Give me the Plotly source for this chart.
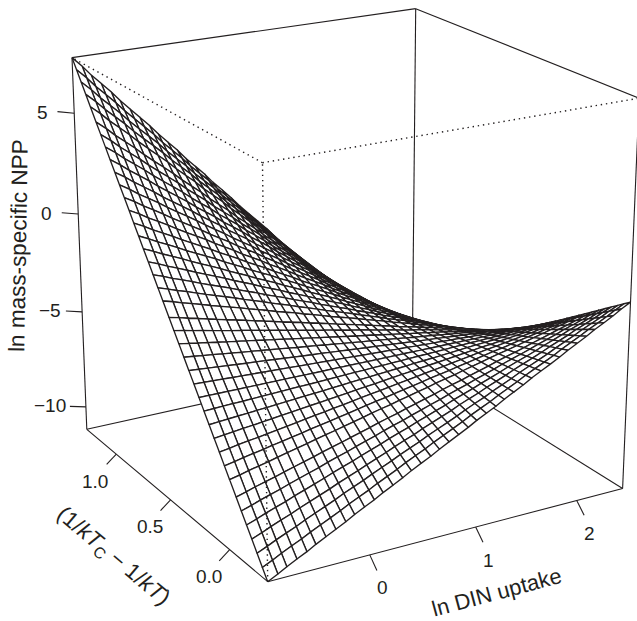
import numpy as np
import plotly.graph_objects as go

# Grid positions of the mesh lines, read along the box edges.
x_grid = [-0.92,-0.83,-0.75,-0.66,-0.57,-0.49,-0.40,-0.31,-0.22,-0.14,-0.05,0.04,0.12,0.21,0.30,0.38,0.47,0.56,0.64,0.73,0.82,0.91,0.99,1.08,1.17,1.25,1.34,1.43,1.51,1.60,1.69,1.78,1.86,1.95,2.04,2.12,2.21,2.30,2.38,2.47]
y_grid = [-0.30,-0.26,-0.22,-0.18,-0.14,-0.10,-0.06,-0.01,0.03,0.07,0.11,0.15,0.19,0.23,0.27,0.31,0.35,0.39,0.43,0.47,0.52,0.56,0.60,0.64,0.68,0.72,0.76,0.80,0.84,0.88,0.92,0.96,1.00,1.04,1.08,1.13,1.17,1.21,1.25,1.29]
# Surface height read along the two mesh edges; every cross line in the picture
# is straight, so each one runs directly between these two edges.
z_at_low_y = [-11.20,-10.96,-10.72,-10.48,-10.25,-10.01,-9.77,-9.53,-9.29,-9.05,-8.81,-8.58,-8.34,-8.10,-7.86,-7.62,-7.38,-7.15,-6.91,-6.67,-6.43,-6.19,-5.95,-5.71,-5.48,-5.24,-5.00,-4.76,-4.52,-4.28,-4.05,-3.81,-3.57,-3.33,-3.09,-2.85,-2.62,-2.38,-2.14,-1.90]
z_at_high_y = [7.70,7.22,6.73,6.25,5.76,5.28,4.79,4.31,3.82,3.34,2.85,2.37,1.88,1.40,0.92,0.43,-0.05,-0.54,-1.02,-1.51,-1.99,-2.48,-2.96,-3.45,-3.93,-4.42,-4.90,-5.38,-5.87,-6.35,-6.84,-7.32,-7.81,-8.29,-8.78,-9.26,-9.75,-10.23,-10.72,-11.20]
x_ticks = [0, 1, 2]
y_ticks = [0.0, 0.5, 1.0]
z_ticks = [-10, -5, 0, 5]
x_tick_labels = ["0", "1", "2"]
y_tick_labels = ["0.0", "0.5", "1.0"]
z_tick_labels = ["\u221210", "\u22125", "0", "5"]
z_limits = [-11.2, 7.7]

W, H = 637, 621
INK = "#231f20"

# Viewing transform, in the manner of R's persp(): theta, phi, distance, focal
# length, principal point, box aspect.
THETA, PHI, DIST, FOCAL, CX, CY, ASPECT_X, ASPECT_Z = 30.065, 20.106, 6.09, 2452.4, 347.4, 273.1, 1.001, 1.006

th, ph = np.radians(THETA), np.radians(PHI)
RIGHT = np.array([np.cos(th), -np.sin(th), 0.0])
FWD = np.array([np.sin(th)*np.cos(ph), np.cos(th)*np.cos(ph), -np.sin(ph)])
UP = np.cross(RIGHT, FWD)
x0, x1 = x_grid[0], x_grid[-1]
y0, y1 = y_grid[0], y_grid[-1]
z0, z1 = z_limits
dx, dy, dz = x1-x0, y1-y0, z1-z0

def view(x, y, z):
    return np.array([((x-x0)/dx-.5)*ASPECT_X, (y-y0)/dy-.5, ((z-z0)/dz-.5)*ASPECT_Z]) + DIST*FWD

def project(x, y, z):
    q = view(x, y, z)
    d = q @ FWD
    return CX + FOCAL*(q @ RIGHT)/d, CY - FOCAL*(q @ UP)/d

fig = go.Figure()

def seg(a, b, dash=None, width=1.1):
    pa, pb = project(*a), project(*b)
    fig.add_trace(go.Scatter(x=[pa[0], pb[0]], y=[pa[1], pb[1]], mode="lines",
                             line=dict(color=INK, width=width, dash=dash),
                             hoverinfo="skip", showlegend=False))

# back and side box edges, behind the surface
for a, b in [((x0,y1,z0),(x1,y1,z0)), ((x1,y1,z0),(x1,y0,z0)), ((x1,y1,z0),(x1,y1,z1)),
             ((x0,y1,z1),(x1,y1,z1)), ((x1,y1,z1),(x1,y0,z1)), ((x0,y1,z0),(x0,y1,z1)),
             ((x1,y0,z0),(x1,y0,z1))]:
    seg(a, b)

# mesh cells, painted far to near so the fold hides what lies behind it
def height(i, j):
    return z_at_low_y[i] + (z_at_high_y[i]-z_at_low_y[i])*(y_grid[j]-y0)/dy

cells = []
for i in range(len(x_grid)-1):
    for j in range(len(y_grid)-1):
        P = [(x_grid[a], y_grid[b], height(a, b)) for a, b in [(i,j),(i+1,j),(i+1,j+1),(i,j+1)]]
        cells.append((np.mean([view(*q) @ FWD for q in P]), P))
cells.sort(key=lambda c: -c[0])
for _, P in cells:
    S = [project(*q) for q in P]
    S.append(S[0])
    fig.add_trace(go.Scatter(x=[s[0] for s in S], y=[s[1] for s in S], mode="lines", fill="toself",
                             fillcolor="white", line=dict(color=INK, width=1.35),
                             hoverinfo="skip", showlegend=False))

# near box edges
for a, b in [((x0,y0,z0),(x1,y0,z0)), ((x0,y0,z0),(x0,y1,z0))]:
    seg(a, b)
for a, b in [((x0,y0,z1),(x0,y1,z1)), ((x0,y0,z1),(x1,y0,z1)), ((x0,y0,z0),(x0,y0,z1))]:
    seg(a, b, dash="1.4px,3.8px", width=1.4)

ann = []
def label(px, py, text, angle=0, size=19):
    ann.append(dict(x=px, y=py, xref="x", yref="y", text=text, showarrow=False,
                    font=dict(family="Liberation Sans, Arial, sans-serif", size=size, color=INK),
                    textangle=angle, xanchor="center", yanchor="middle"))

for v, t in zip(x_ticks, x_tick_labels):
    seg((v,y0,z0), (v,y0-0.033*dy,z0-0.026*dz))
    q = project(v, y0, z0)
    label(q[0]+13, q[1]+33, t)
for v, t in zip(y_ticks, y_tick_labels):
    seg((x0,v,z0), (x0-0.028*dx,v,z0-0.022*dz))
    q = project(x0, v, z0)
    label(q[0]-21, q[1]+27, t)
for v, t in zip(z_ticks, z_tick_labels):
    seg((x0,y1,v), (x0-0.045*dx,y1,v+0.011*dz))
    q = project(x0, y1, v)
    label(q[0]-(36 if len(t) > 2 else 32), q[1]-1, t)
label(496, 592, "ln DIN uptake", -15, 22)
label(113, 557, "(1/<i>kT</i><sub>C</sub> \u2212 1/<i>kT</i>)", 40, 22.5)
label(18, 246, "ln mass-specific NPP", -89, 22.5)

fig.update_layout(width=W, height=H, margin=dict(l=0, r=0, t=0, b=0), paper_bgcolor="white",
                  plot_bgcolor="white", showlegend=False, annotations=ann,
                  xaxis=dict(range=[0, W], visible=False, fixedrange=True),
                  yaxis=dict(range=[H, 0], visible=False, fixedrange=True))
fig.write_html("out.html", config=dict(displayModeBar=False),
               post_script="document.body.style.margin='0';")
